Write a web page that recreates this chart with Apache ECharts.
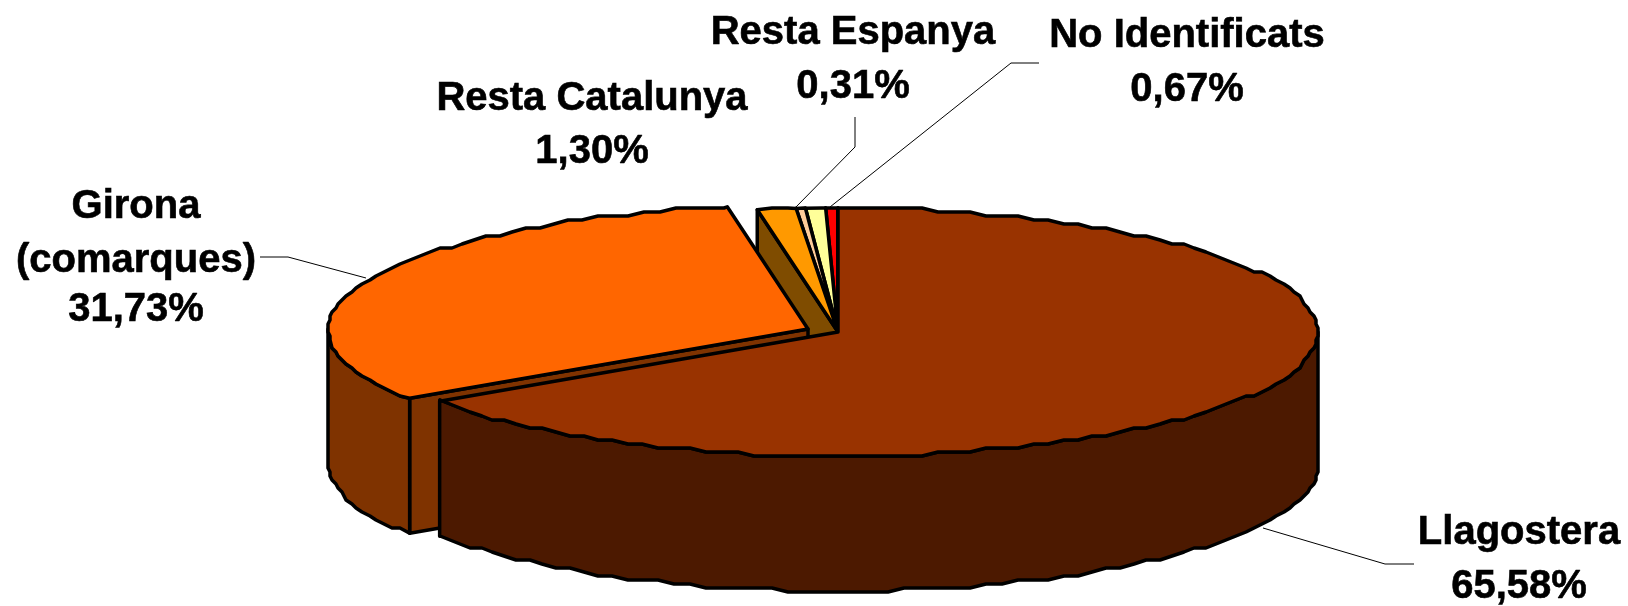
<!DOCTYPE html>
<html>
<head>
<meta charset="utf-8">
<style>html,body{margin:0;padding:0;background:#fff}#c{width:1628px;height:606px}</style>
<script src="https://cdn.jsdelivr.net/npm/echarts@6/dist/echarts.min.js"></script>
</head>
<body>
<div id="c"></div>
<script>
// ---- data ----
const categories = ['Llagostera', 'Girona\n(comarques)', 'Resta Catalunya', 'Resta Espanya', 'No Identificats', ''];
const values = [65.58, 31.73, 1.30, 0.31, 0.67, 0.41];
const topColors = ['#993300', '#FF6600', '#FF9900', '#FFCC99', '#FFFF99', '#FF0000'];
const sideColors = ['#4C1900', '#7F3300', '#7F4C00', '#7F664C', '#7F7F4C', '#7F0000'];

// ---- layout ----
const CX = 838, CY = 332, RX = 480, RY = 124, DEPTH = 135;
const explode = [[0, 0], [-30, -3], [0, 0], [0, 0], [0, 0], [0, 0]];
const drawOrder = [5, 4, 3, 2, 1, 0];
const labelCenters = [
  [[1519, 533], [1519, 587]],
  [[136, 207], [136, 261], [136, 310]],
  [[592, 99], [592, 152]],
  [[853, 33], [853, 87]],
  [[1187, 36], [1187, 90]],
  null
];
const leaders = [
  [[1414, 564], [1385, 564], [1263, 528]],
  [[260, 257], [288, 257], [366, 278]],
  null,
  [[855, 117], [855, 147], [795, 208]],
  [[1039, 63], [1011, 63], [830, 207]],
  null
];
const LABEL_FONT = 'bold 40px "Liberation Sans", Arial, sans-serif';
const GRID_X = 2, GRID_Y = 4, STEP = 2;

// ---- geometry helpers (angles clockwise from 12 o'clock, in degrees) ----
const total = values.reduce((a, b) => a + b, 0);
const starts = [];
values.reduce((acc, v, i) => { starts[i] = acc; return acc + v / total * 360; }, 0);
const ends = values.map((v, i) => starts[i] + v / total * 360);

function pt(i, deg, dy) {
  const r = deg * Math.PI / 180;
  return [CX + explode[i][0] + RX * Math.sin(r), CY + explode[i][1] - RY * Math.cos(r) + (dy || 0)];
}
function rim(i, a, b, dy) {
  const pts = [pt(i, a, dy)];
  for (let d = Math.ceil(a / STEP) * STEP; d < b; d += STEP) {
    if (d <= a) continue;
    const p = pt(i, d, dy);
    pts.push([Math.round(p[0] / GRID_X) * GRID_X, Math.round(p[1] / GRID_Y) * GRID_Y]);
  }
  pts.push(pt(i, b, dy));
  return pts;
}
function poly(points, fill) {
  return {
    type: 'polygon',
    shape: { points },
    style: { fill, stroke: '#000', lineWidth: 3.5, lineJoin: 'round' }
  };
}
function renderSlice(params) {
  const i = drawOrder[params.dataIndex];
  const a = starts[i], b = ends[i];
  const children = [];
  const apex = [CX + explode[i][0], CY + explode[i][1]];
  const apexLow = [apex[0], apex[1] + DEPTH];
  const edge = pt(i, a), edgeLow = pt(i, a, DEPTH);
  children.push(poly([apex, edge, edgeLow, apexLow], sideColors[i]));
  const fa = Math.max(a, 90), fb = Math.min(b, 270);
  if (fb > fa) {
    const upper = rim(i, fa, fb, 0);
    const lower = rim(i, fa, fb, DEPTH).reverse();
    children.push(poly(upper.concat(lower), sideColors[i]));
  }
  children.push(poly([apex].concat(rim(i, a, b, 0)), topColors[i]));
  return { type: 'group', children };
}
function renderLabel(params) {
  const i = params.dataIndex;
  const children = [];
  if (leaders[i]) {
    children.push({
      type: 'polyline',
      shape: { points: leaders[i] },
      style: { stroke: '#000', lineWidth: 1, fill: null }
    });
  }
  if (labelCenters[i]) {
    const lines = categories[i].split('\n').concat(values[i].toFixed(2).replace('.', ',') + '%');
    lines.forEach((t, k) => {
      children.push({
        type: 'text',
        style: {
          text: t, x: labelCenters[i][k][0], y: labelCenters[i][k][1],
          font: LABEL_FONT, fill: '#000', stroke: '#000', lineWidth: 0.6,
          align: 'center', verticalAlign: 'middle'
        }
      });
    });
  }
  return { type: 'group', children };
}

const chart = echarts.init(document.getElementById('c'), null, { renderer: 'canvas' });
chart.setOption({
  backgroundColor: '#fff',
  animation: false,
  tooltip: { show: false },
  series: [
    {
      type: 'custom', coordinateSystem: 'none', silent: true, clip: false, z: 1,
      data: drawOrder.map(i => ({ name: categories[i], value: [values[i]] })),
      renderItem: renderSlice
    },
    {
      type: 'custom', coordinateSystem: 'none', silent: true, clip: false, z: 2,
      data: categories.map((n, i) => ({ name: n, value: [values[i]] })),
      renderItem: renderLabel
    }
  ]
});
</script>
</body>
</html>
